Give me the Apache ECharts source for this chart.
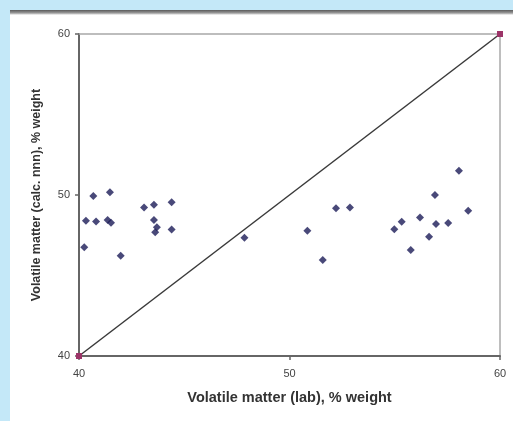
<!DOCTYPE html>
<html>
<head>
<meta charset="utf-8">
<script src="https://cdn.jsdelivr.net/npm/echarts@6/dist/echarts.min.js"></script>
<style>
  html, body { margin: 0; padding: 0; background: #c4e8f8; }
  #main { width: 513px; height: 421px; }
</style>
</head>
<body>
<div id="main"></div>
<script>
// volatile matter, lab measured vs calculated (% weight)
const labX = [40.25, 40.33, 40.68, 40.81, 41.47, 41.36, 41.52, 41.98, 43.09, 43.56,
  43.56, 43.70, 43.62, 44.40, 44.40, 47.86, 50.85, 51.58, 52.21, 52.87,
  54.98, 55.33, 55.76, 56.20, 56.63, 56.91, 56.96, 57.54, 58.05, 58.49];
const calcY = [46.75, 48.40, 49.94, 48.36, 50.17, 48.44, 48.28, 46.22, 49.23, 49.40,
  48.44, 48.00, 47.68, 49.55, 47.85, 47.34, 47.78, 45.96, 49.17, 49.23,
  47.87, 48.34, 46.58, 48.61, 47.40, 50.00, 48.20, 48.26, 51.51, 49.02];
// 1:1 reference line
const refLine = [40, 60];
const axisTicks = [40, 50, 60];

const chart = echarts.init(document.getElementById('main'));

const points = labX.map((x, i) => [x, calcY[i]]);
const lineData = refLine.map(v => [v, v]);

const option = {
  backgroundColor: '#c4e8f8',
  animation: false,
  graphic: [
    {type: 'rect', shape: {x: 10, y: 10, width: 503, height: 411}, style: {fill: '#ffffff'}, z: -10},
    {
      type: 'rect', shape: {x: 10, y: 10, width: 503, height: 5}, z: -9,
      style: {
        fill: new echarts.graphic.LinearGradient(0, 0, 0, 1, [
          {offset: 0, color: '#5a5a5a'},
          {offset: 0.6, color: '#9a9a9a'},
          {offset: 1, color: '#ffffff'}
        ])
      }
    }
  ],
  grid: {left: 79, right: 13, top: 34, bottom: 65},
  xAxis: [
    {
      type: 'value', min: 40, max: 60, interval: 10,
      name: 'Volatile matter (lab), % weight',
      nameLocation: 'middle', nameGap: 34,
      nameTextStyle: {fontFamily: 'Liberation Sans', fontSize: 14.5, fontWeight: 'bold', color: '#333'},
      axisLine: {show: true, lineStyle: {color: '#666', width: 2}},
      axisTick: {show: true, length: 4, lineStyle: {color: '#666', width: 1.5}},
      axisLabel: {fontFamily: 'Liberation Sans', fontSize: 11, color: '#444', margin: 12,
        formatter: v => axisTicks.includes(v) ? String(v) : ''},
      splitLine: {show: false}
    },
    {
      type: 'value', min: 40, max: 60, position: 'top',
      axisLine: {show: true, lineStyle: {color: '#a8a8a8', width: 1.5}},
      axisTick: {show: false}, axisLabel: {show: false}, splitLine: {show: false}
    }
  ],
  yAxis: [
    {
      type: 'value', min: 40, max: 60, interval: 10,
      name: 'Volatile matter (calc. nnn), % weight',
      nameLocation: 'middle', nameGap: 36,
      nameTextStyle: {fontFamily: 'Liberation Sans', fontSize: 12.5, fontWeight: 'bold', color: '#333'},
      axisLine: {show: true, lineStyle: {color: '#666', width: 2}},
      axisTick: {show: true, length: 4, lineStyle: {color: '#666', width: 1.5}},
      axisLabel: {fontFamily: 'Liberation Sans', fontSize: 11, color: '#444', margin: 9,
        formatter: v => axisTicks.includes(v) ? String(v) : ''},
      splitLine: {show: false}
    },
    {
      type: 'value', min: 40, max: 60, position: 'right',
      axisLine: {show: true, lineStyle: {color: '#a8a8a8', width: 1.5}},
      axisTick: {show: false}, axisLabel: {show: false}, splitLine: {show: false}
    }
  ],
  series: [
    {
      type: 'line',
      data: lineData,
      symbol: 'rect',
      symbolSize: 6,
      showAllSymbol: true,
      lineStyle: {color: '#3a3a3a', width: 1.5},
      itemStyle: {color: '#9c3468', borderWidth: 0},
      z: 3
    },
    {
      type: 'scatter',
      data: points,
      symbol: 'diamond',
      symbolSize: 8,
      itemStyle: {color: '#1c1c58'},
      z: 4
    }
  ]
};

chart.setOption(option);
</script>
</body>
</html>
